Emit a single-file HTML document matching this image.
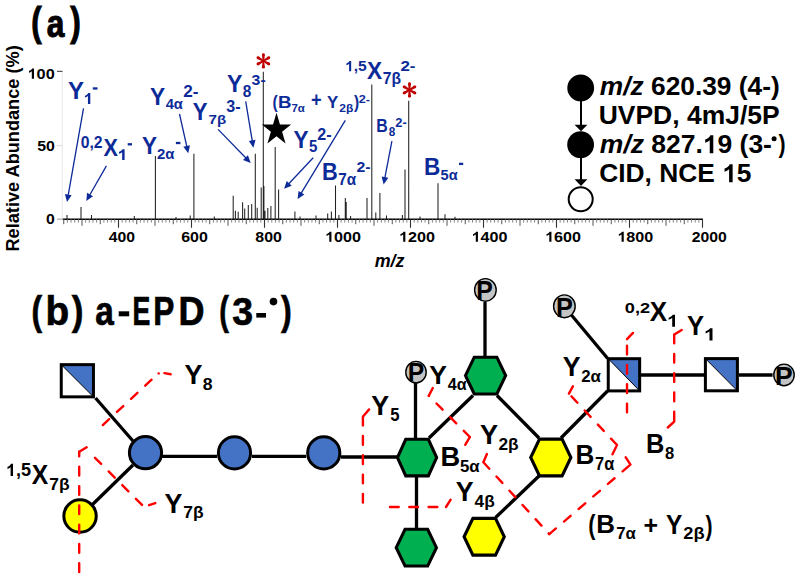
<!DOCTYPE html>
<html><head><meta charset="utf-8"><style>
html,body{margin:0;padding:0;background:#fff;}
svg{display:block;font-family:"Liberation Sans", sans-serif;}
</style></head><body>
<svg width="800" height="579" viewBox="0 0 800 579">
<rect width="800" height="579" fill="#fff"/>
<text x="31.35" y="36.20" font-size="40.99" font-weight="bold" font-style="normal" fill="#000" textLength="10.38" lengthAdjust="spacingAndGlyphs" stroke="#000" stroke-width="1.1">(</text>
<text x="46.87" y="36.60" font-size="38.66" font-weight="bold" font-style="normal" fill="#000" textLength="17.63" lengthAdjust="spacingAndGlyphs" stroke="#000" stroke-width="1.0">a</text>
<text x="70.17" y="36.20" font-size="40.99" font-weight="bold" font-style="normal" fill="#000" textLength="10.50" lengthAdjust="spacingAndGlyphs" stroke="#000" stroke-width="1.1">)</text>
<g transform="translate(19.2,250.3) rotate(-90)">
<text x="-1.21" y="0" font-size="18.3" font-weight="bold" textLength="206.21" lengthAdjust="spacingAndGlyphs">Relative Abundance (%)</text>
</g>
<path transform="translate(27.55,78.80) scale(0.00797,-0.00727)" d="M809,0H535V1024Q385,884 182,818V1066Q289,1101 414,1198Q539,1296 585,1409H809Z" fill="#000"/>
<text x="27.55" y="78.80" font-size="14.89" font-weight="bold" font-style="normal" fill="#000" textLength="27.22" lengthAdjust="spacingAndGlyphs"> 00</text>
<text x="37.31" y="151.00" font-size="15.32" font-weight="bold" font-style="normal" fill="#000" textLength="17.64" lengthAdjust="spacingAndGlyphs">50</text>
<text x="45.98" y="224.10" font-size="15.32" font-weight="bold" font-style="normal" fill="#000" textLength="8.77" lengthAdjust="spacingAndGlyphs">0</text>
<line x1="62.2" y1="71" x2="62.2" y2="219" stroke="#e6e6e6" stroke-width="1"/>
<line x1="57" y1="71.4" x2="62.5" y2="71.4" stroke="#555" stroke-width="1.2"/>
<line x1="56.5" y1="145.5" x2="62.5" y2="145.5" stroke="#ddd" stroke-width="1.2"/>
<line x1="57" y1="219.2" x2="62.5" y2="219.2" stroke="#aaa" stroke-width="1.2"/>
<line x1="62.7" y1="219.2" x2="703" y2="219.2" stroke="#000" stroke-width="1.6"/>
<path d="M67.40 219.2 V222.6 M71.05 219.2 V222.6 M74.70 219.2 V222.6 M78.35 219.2 V222.6 M85.65 219.2 V222.6 M89.30 219.2 V222.6 M92.95 219.2 V222.6 M96.60 219.2 V222.6 M103.90 219.2 V222.6 M107.55 219.2 V222.6 M111.20 219.2 V222.6 M114.85 219.2 V222.6 M122.15 219.2 V222.6 M125.80 219.2 V222.6 M129.45 219.2 V222.6 M133.10 219.2 V222.6 M140.40 219.2 V222.6 M144.05 219.2 V222.6 M147.70 219.2 V222.6 M151.35 219.2 V222.6 M158.65 219.2 V222.6 M162.30 219.2 V222.6 M165.95 219.2 V222.6 M169.60 219.2 V222.6 M176.90 219.2 V222.6 M180.55 219.2 V222.6 M184.20 219.2 V222.6 M187.85 219.2 V222.6 M195.15 219.2 V222.6 M198.80 219.2 V222.6 M202.45 219.2 V222.6 M206.10 219.2 V222.6 M213.40 219.2 V222.6 M217.05 219.2 V222.6 M220.70 219.2 V222.6 M224.35 219.2 V222.6 M231.65 219.2 V222.6 M235.30 219.2 V222.6 M238.95 219.2 V222.6 M242.60 219.2 V222.6 M249.90 219.2 V222.6 M253.55 219.2 V222.6 M257.20 219.2 V222.6 M260.85 219.2 V222.6 M268.15 219.2 V222.6 M271.80 219.2 V222.6 M275.45 219.2 V222.6 M279.10 219.2 V222.6 M286.40 219.2 V222.6 M290.05 219.2 V222.6 M293.70 219.2 V222.6 M297.35 219.2 V222.6 M304.65 219.2 V222.6 M308.30 219.2 V222.6 M311.95 219.2 V222.6 M315.60 219.2 V222.6 M322.90 219.2 V222.6 M326.55 219.2 V222.6 M330.20 219.2 V222.6 M333.85 219.2 V222.6 M341.15 219.2 V222.6 M344.80 219.2 V222.6 M348.45 219.2 V222.6 M352.10 219.2 V222.6 M359.40 219.2 V222.6 M363.05 219.2 V222.6 M366.70 219.2 V222.6 M370.35 219.2 V222.6 M377.65 219.2 V222.6 M381.30 219.2 V222.6 M384.95 219.2 V222.6 M388.60 219.2 V222.6 M395.90 219.2 V222.6 M399.55 219.2 V222.6 M403.20 219.2 V222.6 M406.85 219.2 V222.6 M414.15 219.2 V222.6 M417.80 219.2 V222.6 M421.45 219.2 V222.6 M425.10 219.2 V222.6 M432.40 219.2 V222.6 M436.05 219.2 V222.6 M439.70 219.2 V222.6 M443.35 219.2 V222.6 M450.65 219.2 V222.6 M454.30 219.2 V222.6 M457.95 219.2 V222.6 M461.60 219.2 V222.6 M468.90 219.2 V222.6 M472.55 219.2 V222.6 M476.20 219.2 V222.6 M479.85 219.2 V222.6 M487.15 219.2 V222.6 M490.80 219.2 V222.6 M494.45 219.2 V222.6 M498.10 219.2 V222.6 M505.40 219.2 V222.6 M509.05 219.2 V222.6 M512.70 219.2 V222.6 M516.35 219.2 V222.6 M523.65 219.2 V222.6 M527.30 219.2 V222.6 M530.95 219.2 V222.6 M534.60 219.2 V222.6 M541.90 219.2 V222.6 M545.55 219.2 V222.6 M549.20 219.2 V222.6 M552.85 219.2 V222.6 M560.15 219.2 V222.6 M563.80 219.2 V222.6 M567.45 219.2 V222.6 M571.10 219.2 V222.6 M578.40 219.2 V222.6 M582.05 219.2 V222.6 M585.70 219.2 V222.6 M589.35 219.2 V222.6 M596.65 219.2 V222.6 M600.30 219.2 V222.6 M603.95 219.2 V222.6 M607.60 219.2 V222.6 M614.90 219.2 V222.6 M618.55 219.2 V222.6 M622.20 219.2 V222.6 M625.85 219.2 V222.6 M633.15 219.2 V222.6 M636.80 219.2 V222.6 M640.45 219.2 V222.6 M644.10 219.2 V222.6 M651.40 219.2 V222.6 M655.05 219.2 V222.6 M658.70 219.2 V222.6 M662.35 219.2 V222.6 M669.65 219.2 V222.6 M673.30 219.2 V222.6 M676.95 219.2 V222.6 M680.60 219.2 V222.6 M687.90 219.2 V222.6 M691.55 219.2 V222.6 M695.20 219.2 V222.6 M698.85 219.2 V222.6" stroke="#777" stroke-width="0.9" fill="none"/>
<path d="M63.75 219.2 V224.2 M82.00 219.2 V225.8 M100.25 219.2 V224.2 M136.75 219.2 V224.2 M155.00 219.2 V225.8 M173.25 219.2 V224.2 M209.75 219.2 V224.2 M228.00 219.2 V225.8 M246.25 219.2 V224.2 M282.75 219.2 V224.2 M301.00 219.2 V225.8 M319.25 219.2 V224.2 M355.75 219.2 V224.2 M374.00 219.2 V225.8 M392.25 219.2 V224.2 M428.75 219.2 V224.2 M447.00 219.2 V225.8 M465.25 219.2 V224.2 M501.75 219.2 V224.2 M520.00 219.2 V225.8 M538.25 219.2 V224.2 M574.75 219.2 V224.2 M593.00 219.2 V225.8 M611.25 219.2 V224.2 M647.75 219.2 V224.2 M666.00 219.2 V225.8 M684.25 219.2 V224.2" stroke="#555" stroke-width="1" fill="none"/>
<path d="M118.50 219.2 V227.8 M191.50 219.2 V227.8 M264.50 219.2 V227.8 M337.50 219.2 V227.8 M410.50 219.2 V227.8 M483.50 219.2 V227.8 M556.50 219.2 V227.8 M629.50 219.2 V227.8 M702.50 219.2 V227.8" stroke="#333" stroke-width="1.1" fill="none"/>
<text x="108.66" y="241.80" font-size="14.60" font-weight="bold" font-style="normal" fill="#000" textLength="26.28" lengthAdjust="spacingAndGlyphs">400</text>
<text x="181.17" y="241.80" font-size="14.60" font-weight="bold" font-style="normal" fill="#000" textLength="26.64" lengthAdjust="spacingAndGlyphs">600</text>
<text x="255.39" y="241.80" font-size="14.60" font-weight="bold" font-style="normal" fill="#000" textLength="26.56" lengthAdjust="spacingAndGlyphs">800</text>
<path transform="translate(325.07,241.80) scale(0.00788,-0.00713)" d="M809,0H535V1024Q385,884 182,818V1066Q289,1101 414,1198Q539,1296 585,1409H809Z" fill="#000"/>
<text x="325.07" y="241.80" font-size="14.60" font-weight="bold" font-style="normal" fill="#000" textLength="35.90" lengthAdjust="spacingAndGlyphs"> 000</text>
<path transform="translate(398.97,241.80) scale(0.00788,-0.00713)" d="M809,0H535V1024Q385,884 182,818V1066Q289,1101 414,1198Q539,1296 585,1409H809Z" fill="#000"/>
<text x="398.97" y="241.80" font-size="14.60" font-weight="bold" font-style="normal" fill="#000" textLength="35.90" lengthAdjust="spacingAndGlyphs"> 200</text>
<path transform="translate(471.57,241.80) scale(0.00788,-0.00713)" d="M809,0H535V1024Q385,884 182,818V1066Q289,1101 414,1198Q539,1296 585,1409H809Z" fill="#000"/>
<text x="471.57" y="241.80" font-size="14.60" font-weight="bold" font-style="normal" fill="#000" textLength="35.90" lengthAdjust="spacingAndGlyphs"> 400</text>
<path transform="translate(545.07,241.80) scale(0.00788,-0.00713)" d="M809,0H535V1024Q385,884 182,818V1066Q289,1101 414,1198Q539,1296 585,1409H809Z" fill="#000"/>
<text x="545.07" y="241.80" font-size="14.60" font-weight="bold" font-style="normal" fill="#000" textLength="35.90" lengthAdjust="spacingAndGlyphs"> 600</text>
<path transform="translate(617.37,241.80) scale(0.00788,-0.00713)" d="M809,0H535V1024Q385,884 182,818V1066Q289,1101 414,1198Q539,1296 585,1409H809Z" fill="#000"/>
<text x="617.37" y="241.80" font-size="14.60" font-weight="bold" font-style="normal" fill="#000" textLength="35.90" lengthAdjust="spacingAndGlyphs"> 800</text>
<text x="691.75" y="241.80" font-size="14.60" font-weight="bold" font-style="normal" fill="#000" textLength="34.99" lengthAdjust="spacingAndGlyphs">2000</text>
<text x="374.69" y="267.25" font-size="17.60" font-weight="bold" font-style="italic" fill="#000" textLength="29.83" lengthAdjust="spacingAndGlyphs">m/z</text>
<path d="M67 219.2 V215 M81 219.2 V207 M91.5 219.2 V215 M155.4 219.2 V156 M193.9 219.2 V153.7 M233.2 219.2 V195.7 M235.4 219.2 V210.8 M238.2 219.2 V211.8 M242.6 219.2 V202.2 M244.7 219.2 V208.4 M248.3 219.2 V205 M251.7 219.2 V204 M255.3 219.2 V153.7 M257.2 219.2 V207.7 M261.2 219.2 V187.4 M263.9 219.2 V186 M263.3 219.2 V71.8 M265.0 219.2 V210.8 M267.8 219.2 V208 M270.9 219.2 V206 M275.2 219.2 V147 M278.6 219.2 V189.5 M294.9 219.2 V211.6 M327.7 219.2 V213.6 M331.4 219.2 V211.6 M335.5 219.2 V185.6 M345.3 219.2 V198.1 M346.2 219.2 V202 M367 219.2 V198 M371.8 219.2 V84.4 M375.8 219.2 V212.6 M379.9 219.2 V192.9 M402.4 219.2 V214.9 M405 219.2 V169.5 M408.7 219.2 V100.7 M438 219.2 V183.2 M445 219.2 V214.3 M386.5 219.2 V215.5 M338.9 219.2 V215 M350.6 219.2 V216 M316 219.2 V215.5 M300 219.2 V216.5 M420 219.2 V216.5 M455 219.2 V216.8 M134.3 219.2 V216 M176 219.2 V217 M190.2 219.2 V215.5 M214.3 219.2 V216.5" stroke="#222" stroke-width="1.05" fill="none"/>
<polygon points="264.20,60.90 264.85,54.65 261.95,54.65 262.60,60.90" fill="#c00000"/><circle cx="263.40" cy="54.65" r="1.45" fill="#c00000"/><polygon points="263.80,61.59 269.54,59.03 268.09,56.52 263.00,60.21" fill="#c00000"/><circle cx="268.81" cy="57.77" r="1.45" fill="#c00000"/><polygon points="263.00,61.59 268.09,65.28 269.54,62.77 263.80,60.21" fill="#c00000"/><circle cx="268.81" cy="64.02" r="1.45" fill="#c00000"/><polygon points="262.60,60.90 261.95,67.15 264.85,67.15 264.20,60.90" fill="#c00000"/><circle cx="263.40" cy="67.15" r="1.45" fill="#c00000"/><polygon points="263.00,60.21 257.26,62.77 258.71,65.28 263.80,61.59" fill="#c00000"/><circle cx="257.99" cy="64.02" r="1.45" fill="#c00000"/><polygon points="263.80,60.21 258.71,56.52 257.26,59.03 263.00,61.59" fill="#c00000"/><circle cx="257.99" cy="57.77" r="1.45" fill="#c00000"/>
<polygon points="410.30,89.95 410.95,83.70 408.05,83.70 408.70,89.95" fill="#c00000"/><circle cx="409.50" cy="83.70" r="1.45" fill="#c00000"/><polygon points="409.90,90.64 415.64,88.08 414.19,85.57 409.10,89.26" fill="#c00000"/><circle cx="414.91" cy="86.83" r="1.45" fill="#c00000"/><polygon points="409.10,90.64 414.19,94.33 415.64,91.82 409.90,89.26" fill="#c00000"/><circle cx="414.91" cy="93.08" r="1.45" fill="#c00000"/><polygon points="408.70,89.95 408.05,96.20 410.95,96.20 410.30,89.95" fill="#c00000"/><circle cx="409.50" cy="96.20" r="1.45" fill="#c00000"/><polygon points="409.10,89.26 403.36,91.82 404.81,94.33 409.90,90.64" fill="#c00000"/><circle cx="404.09" cy="93.08" r="1.45" fill="#c00000"/><polygon points="409.90,89.26 404.81,85.57 403.36,88.08 409.10,90.64" fill="#c00000"/><circle cx="404.09" cy="86.83" r="1.45" fill="#c00000"/>
<polygon points="276.50,112.80 273.04,124.55 261.85,124.55 270.91,131.81 267.45,143.55 276.50,136.29 285.55,143.55 282.09,131.81 291.15,124.55 279.96,124.55" fill="#000"/>
<circle cx="580.7" cy="87.9" r="13.4" fill="#000"/>
<circle cx="580.6" cy="144.7" r="13.4" fill="#000"/>
<circle cx="580.7" cy="199.3" r="12" fill="#fff" stroke="#000" stroke-width="2"/>
<line x1="581" y1="100" x2="581" y2="126" stroke="#000" stroke-width="2"/>
<polygon points="574.6,124.7 587.4,124.7 581,131.3" fill="#000"/>
<line x1="581" y1="157" x2="581" y2="180" stroke="#000" stroke-width="2"/>
<polygon points="574.6,179.2 587.4,179.2 581,186.1" fill="#000"/>
<g transform="translate(599.85,95.3) scale(1.0003,1)">
<text x="0.00" y="0" font-size="26.3" font-weight="bold" font-style="italic" xml:space="preserve">m/z</text>
<text x="43.84" y="0" font-size="26.3" font-weight="bold" font-style="normal" xml:space="preserve"> 620.39 (4-)</text>
</g>
<g transform="translate(598.71,124.3) scale(1.0067,1)">
<text x="0.00" y="0" font-size="26.3" font-weight="bold" font-style="normal" xml:space="preserve">UVPD, 4mJ/5P</text>
</g>
<g transform="translate(599.85,153.3) scale(1.0063,1)">
<text x="0.00" y="0" font-size="26.3" font-weight="bold" font-style="italic" xml:space="preserve">m/z</text>
<path transform="translate(102.34,0.00) scale(0.01284,-0.01284)" d="M809,0H535V1024Q385,884 182,818V1066Q289,1101 414,1198Q539,1296 585,1409H809Z" fill="#000"/>
<text x="43.84" y="0" font-size="26.3" font-weight="bold" font-style="normal" xml:space="preserve"> 827. 9 (3-</text>
</g>
<circle cx="774.1" cy="138.8" r="2.5" fill="#000"/>
<text x="778.38" y="153.30" font-size="25.80" font-weight="bold" font-style="normal" fill="#000" textLength="7.08" lengthAdjust="spacingAndGlyphs">)</text>
<g transform="translate(599.22,182.3) scale(1.0021,1)">
<path transform="translate(122.74,0.00) scale(0.01284,-0.01284)" d="M809,0H535V1024Q385,884 182,818V1066Q289,1101 414,1198Q539,1296 585,1409H809Z" fill="#000"/>
<text x="0.00" y="0" font-size="26.3" font-weight="bold" font-style="normal" xml:space="preserve">CID, NCE  5</text>
</g>
<text x="67.99" y="99.40" font-size="24.71" font-weight="bold" font-style="normal" fill="#0d2b98" textLength="16.00" lengthAdjust="spacingAndGlyphs">Y</text>
<path transform="translate(83.33,103.90) scale(0.00861,-0.00774)" d="M809,0H535V1024Q385,884 182,818V1066Q289,1101 414,1198Q539,1296 585,1409H809Z" fill="#0d2b98"/>
<text x="83.33" y="103.90" font-size="15.84" font-weight="bold" font-style="normal" fill="#0d2b98" textLength="9.81" lengthAdjust="spacingAndGlyphs"> </text>
<rect x="92.8" y="87.30" width="4.70" height="2.3" fill="#0d2b98"/>
<text x="80.68" y="148.40" font-size="16.33" font-weight="bold" font-style="normal" fill="#0d2b98" textLength="21.85" lengthAdjust="spacingAndGlyphs">0,2</text>
<text x="103.51" y="155.80" font-size="24.42" font-weight="bold" font-style="normal" fill="#0d2b98" textLength="14.38" lengthAdjust="spacingAndGlyphs">X</text>
<path transform="translate(117.37,160.00) scale(0.00893,-0.00767)" d="M809,0H535V1024Q385,884 182,818V1066Q289,1101 414,1198Q539,1296 585,1409H809Z" fill="#0d2b98"/>
<text x="117.37" y="160.00" font-size="15.70" font-weight="bold" font-style="normal" fill="#0d2b98" textLength="10.17" lengthAdjust="spacingAndGlyphs"> </text>
<rect x="127.7" y="143.15" width="4.30" height="2.3" fill="#0d2b98"/>
<text x="141.91" y="153.80" font-size="23.55" font-weight="bold" font-style="normal" fill="#0d2b98" textLength="15.05" lengthAdjust="spacingAndGlyphs">Y</text>
<text x="157.08" y="158.50" font-size="15.04" font-weight="bold" font-style="normal" fill="#0d2b98" textLength="17.47" lengthAdjust="spacingAndGlyphs">2α</text>
<rect x="175.9" y="141.85" width="4.50" height="2.3" fill="#0d2b98"/>
<text x="150.11" y="104.70" font-size="23.26" font-weight="bold" font-style="normal" fill="#0d2b98" textLength="15.15" lengthAdjust="spacingAndGlyphs">Y</text>
<text x="165.68" y="108.90" font-size="15.26" font-weight="bold" font-style="normal" fill="#0d2b98" textLength="17.17" lengthAdjust="spacingAndGlyphs">4α</text>
<text x="183.20" y="97.40" font-size="16.33" font-weight="bold" font-style="normal" fill="#0d2b98" textLength="15.28" lengthAdjust="spacingAndGlyphs">2-</text>
<text x="192.72" y="119.90" font-size="23.26" font-weight="bold" font-style="normal" fill="#0d2b98" textLength="14.73" lengthAdjust="spacingAndGlyphs">Y</text>
<text x="208.55" y="124.30" font-size="13.66" font-weight="bold" font-style="normal" fill="#0d2b98" textLength="17.66" lengthAdjust="spacingAndGlyphs">7β</text>
<text x="226.33" y="112.30" font-size="15.75" font-weight="bold" font-style="normal" fill="#0d2b98" textLength="14.31" lengthAdjust="spacingAndGlyphs">3-</text>
<text x="226.90" y="92.10" font-size="23.55" font-weight="bold" font-style="normal" fill="#0d2b98" textLength="15.47" lengthAdjust="spacingAndGlyphs">Y</text>
<text x="242.71" y="97.30" font-size="16.18" font-weight="bold" font-style="normal" fill="#0d2b98" textLength="8.56" lengthAdjust="spacingAndGlyphs">8</text>
<text x="251.64" y="84.60" font-size="14.89" font-weight="bold" font-style="normal" fill="#0d2b98" textLength="14.10" lengthAdjust="spacingAndGlyphs">3-</text>
<text x="272.62" y="107.80" font-size="18.08" font-weight="bold" font-style="normal" fill="#0d2b98" textLength="5.19" lengthAdjust="spacingAndGlyphs">(</text>
<text x="277.95" y="108.00" font-size="17.01" font-weight="bold" font-style="normal" fill="#0d2b98" textLength="13.50" lengthAdjust="spacingAndGlyphs">B</text>
<text x="291.41" y="112.00" font-size="11.63" font-weight="bold" font-style="normal" fill="#0d2b98" textLength="13.41" lengthAdjust="spacingAndGlyphs">7α</text>
<text x="310.94" y="107.20" font-size="19.44" font-weight="bold" font-style="normal" fill="#0d2b98" textLength="10.60" lengthAdjust="spacingAndGlyphs">+</text>
<text x="327.11" y="108.00" font-size="17.01" font-weight="bold" font-style="normal" fill="#0d2b98" textLength="11.26" lengthAdjust="spacingAndGlyphs">Y</text>
<text x="339.38" y="111.90" font-size="10.90" font-weight="bold" font-style="normal" fill="#0d2b98" textLength="14.02" lengthAdjust="spacingAndGlyphs">2β</text>
<text x="353.88" y="107.80" font-size="18.08" font-weight="bold" font-style="normal" fill="#0d2b98" textLength="5.19" lengthAdjust="spacingAndGlyphs">)</text>
<text x="358.76" y="102.60" font-size="10.60" font-weight="bold" font-style="normal" fill="#0d2b98" textLength="11.24" lengthAdjust="spacingAndGlyphs">2-</text>
<text x="293.51" y="147.90" font-size="24.27" font-weight="bold" font-style="normal" fill="#0d2b98" textLength="15.05" lengthAdjust="spacingAndGlyphs">Y</text>
<text x="308.94" y="152.00" font-size="15.99" font-weight="bold" font-style="normal" fill="#0d2b98" textLength="8.38" lengthAdjust="spacingAndGlyphs">5</text>
<text x="317.24" y="140.30" font-size="16.18" font-weight="bold" font-style="normal" fill="#0d2b98" textLength="14.30" lengthAdjust="spacingAndGlyphs">2-</text>
<path transform="translate(345.01,71.20) scale(0.00763,-0.00731)" d="M809,0H535V1024Q385,884 182,818V1066Q289,1101 414,1198Q539,1296 585,1409H809Z" fill="#0d2b98"/>
<text x="345.01" y="71.20" font-size="14.97" font-weight="bold" font-style="normal" fill="#0d2b98" textLength="21.72" lengthAdjust="spacingAndGlyphs"> ,5</text>
<text x="367.10" y="78.80" font-size="24.56" font-weight="bold" font-style="normal" fill="#0d2b98" textLength="15.10" lengthAdjust="spacingAndGlyphs">X</text>
<text x="382.73" y="83.50" font-size="15.87" font-weight="bold" font-style="normal" fill="#0d2b98" textLength="18.30" lengthAdjust="spacingAndGlyphs">7β</text>
<text x="400.41" y="71.20" font-size="14.18" font-weight="bold" font-style="normal" fill="#0d2b98" textLength="15.07" lengthAdjust="spacingAndGlyphs">2-</text>
<text x="322.04" y="179.60" font-size="23.40" font-weight="bold" font-style="normal" fill="#0d2b98" textLength="15.75" lengthAdjust="spacingAndGlyphs">B</text>
<text x="338.24" y="184.60" font-size="15.84" font-weight="bold" font-style="normal" fill="#0d2b98" textLength="17.91" lengthAdjust="spacingAndGlyphs">7α</text>
<text x="356.55" y="172.30" font-size="14.89" font-weight="bold" font-style="normal" fill="#0d2b98" textLength="14.08" lengthAdjust="spacingAndGlyphs">2-</text>
<text x="376.24" y="131.80" font-size="18.31" font-weight="bold" font-style="normal" fill="#0d2b98" textLength="11.49" lengthAdjust="spacingAndGlyphs">B</text>
<text x="388.83" y="135.60" font-size="12.60" font-weight="bold" font-style="normal" fill="#0d2b98" textLength="6.53" lengthAdjust="spacingAndGlyphs">8</text>
<text x="395.35" y="126.70" font-size="13.46" font-weight="bold" font-style="normal" fill="#0d2b98" textLength="11.46" lengthAdjust="spacingAndGlyphs">2-</text>
<text x="423.89" y="174.50" font-size="23.55" font-weight="bold" font-style="normal" fill="#0d2b98" textLength="16.34" lengthAdjust="spacingAndGlyphs">B</text>
<text x="440.55" y="179.50" font-size="15.55" font-weight="bold" font-style="normal" fill="#0d2b98" textLength="17.10" lengthAdjust="spacingAndGlyphs">5α</text>
<rect x="459.0" y="162.75" width="4.20" height="2.3" fill="#0d2b98"/>
<line x1="83.5" y1="108.3" x2="67.95" y2="196.58" stroke="#0d2b98" stroke-width="1.3"/>
<polygon points="67.00,202.00 64.95,194.02 71.65,195.20" fill="#0d2b98"/>
<line x1="106.4" y1="165.9" x2="89.03" y2="196.23" stroke="#0d2b98" stroke-width="1.3"/>
<polygon points="86.30,201.00 87.08,192.80 92.98,196.18" fill="#0d2b98"/>
<line x1="179.5" y1="114" x2="187.10" y2="147.83" stroke="#0d2b98" stroke-width="1.3"/>
<polygon points="188.30,153.20 183.34,146.63 189.97,145.14" fill="#0d2b98"/>
<line x1="218.1" y1="129.4" x2="246.87" y2="159.05" stroke="#0d2b98" stroke-width="1.3"/>
<polygon points="250.70,163.00 243.04,159.98 247.92,155.25" fill="#0d2b98"/>
<line x1="245.7" y1="101.3" x2="252.50" y2="142.37" stroke="#0d2b98" stroke-width="1.3"/>
<polygon points="253.40,147.80 248.82,140.96 255.53,139.85" fill="#0d2b98"/>
<line x1="313.2" y1="157.7" x2="287.86" y2="184.78" stroke="#0d2b98" stroke-width="1.3"/>
<polygon points="284.10,188.80 286.74,181.00 291.71,185.65" fill="#0d2b98"/>
<line x1="345.3" y1="120.4" x2="300.45" y2="194.40" stroke="#0d2b98" stroke-width="1.3"/>
<polygon points="297.60,199.10 298.58,190.92 304.40,194.45" fill="#0d2b98"/>
<line x1="391.9" y1="141.1" x2="384.63" y2="179.20" stroke="#0d2b98" stroke-width="1.3"/>
<polygon points="383.60,184.60 381.67,176.60 388.35,177.87" fill="#0d2b98"/>
<text x="31.61" y="325.40" font-size="40.80" font-weight="bold" font-style="normal" fill="#000" textLength="10.62" lengthAdjust="spacingAndGlyphs" stroke="#000" stroke-width="0.7">(</text>
<text x="45.55" y="325.40" font-size="40.85" font-weight="bold" font-style="normal" fill="#000" textLength="23.64" lengthAdjust="spacingAndGlyphs" stroke="#000" stroke-width="0.7">b</text>
<text x="71.67" y="325.40" font-size="40.80" font-weight="bold" font-style="normal" fill="#000" textLength="11.68" lengthAdjust="spacingAndGlyphs" stroke="#000" stroke-width="0.7">)</text>
<text x="95.22" y="325.40" font-size="40.33" font-weight="bold" font-style="normal" fill="#000" textLength="18.57" lengthAdjust="spacingAndGlyphs" stroke="#000" stroke-width="0.7">a</text>
<rect x="118.7" y="311.3" width="10.5" height="5.0" fill="#000"/>
<text x="132.51" y="325.40" font-size="40.26" font-weight="bold" font-style="normal" fill="#000" textLength="17.83" lengthAdjust="spacingAndGlyphs" stroke="#000" stroke-width="0.7">E</text>
<text x="153.28" y="325.40" font-size="40.26" font-weight="bold" font-style="normal" fill="#000" textLength="21.10" lengthAdjust="spacingAndGlyphs" stroke="#000" stroke-width="0.7">P</text>
<text x="178.39" y="325.40" font-size="40.26" font-weight="bold" font-style="normal" fill="#000" textLength="26.02" lengthAdjust="spacingAndGlyphs" stroke="#000" stroke-width="0.7">D</text>
<text x="219.25" y="325.40" font-size="40.80" font-weight="bold" font-style="normal" fill="#000" textLength="9.68" lengthAdjust="spacingAndGlyphs" stroke="#000" stroke-width="0.7">(</text>
<text x="232.14" y="325.40" font-size="38.67" font-weight="bold" font-style="normal" fill="#000" textLength="20.81" lengthAdjust="spacingAndGlyphs" stroke="#000" stroke-width="0.7">3</text>
<rect x="256.3" y="313.0" width="9.7" height="4.6" fill="#000"/>
<circle cx="273.5" cy="301.6" r="3.8" fill="#000"/>
<text x="281.07" y="325.40" font-size="40.80" font-weight="bold" font-style="normal" fill="#000" textLength="10.74" lengthAdjust="spacingAndGlyphs" stroke="#000" stroke-width="0.7">)</text>
<text x="184.54" y="383.80" font-size="26.89" font-weight="bold" font-style="normal" fill="#000">Y</text>
<text x="202.84" y="390.20" font-size="17.04" font-weight="bold" font-style="normal" fill="#000" textLength="9.80" lengthAdjust="spacingAndGlyphs">8</text>
<path transform="translate(5.89,476.00) scale(0.00882,-0.00866)" d="M809,0H535V1024Q385,884 182,818V1066Q289,1101 414,1198Q539,1296 585,1409H809Z" fill="#000"/>
<text x="5.89" y="476.00" font-size="17.73" font-weight="bold" font-style="normal" fill="#000" textLength="25.11" lengthAdjust="spacingAndGlyphs"> ,5</text>
<text x="31.78" y="483.50" font-size="26.89" font-weight="bold" font-style="normal" fill="#000" textLength="16.43" lengthAdjust="spacingAndGlyphs">X</text>
<text x="49.25" y="489.50" font-size="16.15" font-weight="bold" font-style="normal" fill="#000" textLength="20.34" lengthAdjust="spacingAndGlyphs">7β</text>
<text x="164.54" y="512.50" font-size="27.62" font-weight="bold" font-style="normal" fill="#000" textLength="17.89" lengthAdjust="spacingAndGlyphs">Y</text>
<text x="183.25" y="518.00" font-size="16.84" font-weight="bold" font-style="normal" fill="#000" textLength="20.34" lengthAdjust="spacingAndGlyphs">7β</text>
<text x="371.24" y="414.50" font-size="27.47" font-weight="bold" font-style="normal" fill="#000" textLength="17.89" lengthAdjust="spacingAndGlyphs">Y</text>
<text x="390.19" y="420.70" font-size="17.44" font-weight="bold" font-style="normal" fill="#000" textLength="9.28" lengthAdjust="spacingAndGlyphs">5</text>
<text x="429.35" y="383.75" font-size="26.67" font-weight="bold" font-style="normal" fill="#000" textLength="17.68" lengthAdjust="spacingAndGlyphs">Y</text>
<text x="447.86" y="389.70" font-size="17.15" font-weight="bold" font-style="normal" fill="#000" textLength="18.91" lengthAdjust="spacingAndGlyphs">4α</text>
<text x="440.38" y="466.20" font-size="27.91" font-weight="bold" font-style="normal" fill="#000" textLength="19.66" lengthAdjust="spacingAndGlyphs">B</text>
<text x="459.98" y="471.80" font-size="17.30" font-weight="bold" font-style="normal" fill="#000" textLength="19.69" lengthAdjust="spacingAndGlyphs">5α</text>
<text x="455.74" y="501.10" font-size="26.74" font-weight="bold" font-style="normal" fill="#000">Y</text>
<text x="474.64" y="507.10" font-size="16.28" font-weight="bold" font-style="normal" fill="#000" textLength="20.14" lengthAdjust="spacingAndGlyphs">4β</text>
<text x="480.04" y="444.40" font-size="26.74" font-weight="bold" font-style="normal" fill="#000" textLength="18.10" lengthAdjust="spacingAndGlyphs">Y</text>
<text x="498.50" y="450.40" font-size="16.28" font-weight="bold" font-style="normal" fill="#000" textLength="20.18" lengthAdjust="spacingAndGlyphs">2β</text>
<text x="575.46" y="464.40" font-size="26.74" font-weight="bold" font-style="normal" fill="#000" textLength="18.83" lengthAdjust="spacingAndGlyphs">B</text>
<text x="595.10" y="470.40" font-size="17.59" font-weight="bold" font-style="normal" fill="#000" textLength="19.17" lengthAdjust="spacingAndGlyphs">7α</text>
<text x="562.74" y="375.80" font-size="27.33" font-weight="bold" font-style="normal" fill="#000" textLength="17.79" lengthAdjust="spacingAndGlyphs">Y</text>
<text x="581.22" y="382.10" font-size="16.76" font-weight="bold" font-style="normal" fill="#000" textLength="19.76" lengthAdjust="spacingAndGlyphs">2α</text>
<text x="624.88" y="313.10" font-size="15.47" font-weight="bold" font-style="normal" fill="#000" textLength="25.25" lengthAdjust="spacingAndGlyphs">0,2</text>
<text x="649.77" y="321.20" font-size="27.91" font-weight="bold" font-style="normal" fill="#000" textLength="17.36" lengthAdjust="spacingAndGlyphs">X</text>
<path transform="translate(666.74,326.80) scale(0.01021,-0.00852)" d="M809,0H535V1024Q385,884 182,818V1066Q289,1101 414,1198Q539,1296 585,1409H809Z" fill="#000"/>
<text x="666.74" y="326.80" font-size="17.44" font-weight="bold" font-style="normal" fill="#000" textLength="11.63" lengthAdjust="spacingAndGlyphs"> </text>
<text x="687.06" y="335.00" font-size="27.18" font-weight="bold" font-style="normal" fill="#000" textLength="17.05" lengthAdjust="spacingAndGlyphs">Y</text>
<path transform="translate(703.60,340.60) scale(0.01100,-0.00880)" d="M809,0H535V1024Q385,884 182,818V1066Q289,1101 414,1198Q539,1296 585,1409H809Z" fill="#000"/>
<text x="703.60" y="340.60" font-size="18.02" font-weight="bold" font-style="normal" fill="#000" textLength="12.53" lengthAdjust="spacingAndGlyphs"> </text>
<text x="645.90" y="453.00" font-size="27.04" font-weight="bold" font-style="normal" fill="#000" textLength="18.35" lengthAdjust="spacingAndGlyphs">B</text>
<text x="665.07" y="459.00" font-size="16.90" font-weight="bold" font-style="normal" fill="#000" textLength="9.24" lengthAdjust="spacingAndGlyphs">8</text>
<text x="588.32" y="534.00" font-size="26.77" font-weight="bold" font-style="normal" fill="#000" textLength="7.20" lengthAdjust="spacingAndGlyphs">(</text>
<text x="596.37" y="533.40" font-size="26.16" font-weight="bold" font-style="normal" fill="#000" textLength="18.71" lengthAdjust="spacingAndGlyphs">B</text>
<text x="616.18" y="539.10" font-size="16.72" font-weight="bold" font-style="normal" fill="#000" textLength="19.70" lengthAdjust="spacingAndGlyphs">7α</text>
<text x="643.45" y="533.60" font-size="26.60" font-weight="bold" font-style="normal" fill="#000" textLength="14.56" lengthAdjust="spacingAndGlyphs">+</text>
<text x="666.08" y="533.50" font-size="26.89" font-weight="bold" font-style="normal" fill="#000" textLength="16.31" lengthAdjust="spacingAndGlyphs">Y</text>
<text x="683.37" y="539.00" font-size="16.01" font-weight="bold" font-style="normal" fill="#000" textLength="21.24" lengthAdjust="spacingAndGlyphs">2β</text>
<text x="705.48" y="534.50" font-size="26.91" font-weight="bold" font-style="normal" fill="#000" textLength="7.08" lengthAdjust="spacingAndGlyphs">)</text>
<line x1="95.5" y1="398" x2="133" y2="441" stroke="#000" stroke-width="3.3"/>
<line x1="133" y1="465" x2="92" y2="505" stroke="#000" stroke-width="3.3"/>
<line x1="162" y1="456.4" x2="217" y2="456.4" stroke="#000" stroke-width="3.3"/>
<line x1="252" y1="456.4" x2="306" y2="456.4" stroke="#000" stroke-width="3.3"/>
<line x1="341" y1="457" x2="398" y2="457" stroke="#000" stroke-width="3.3"/>
<line x1="415.5" y1="382" x2="415.5" y2="439" stroke="#000" stroke-width="3.3"/>
<line x1="416.5" y1="476" x2="416.5" y2="528" stroke="#000" stroke-width="3.3"/>
<line x1="429" y1="438" x2="473" y2="395.5" stroke="#000" stroke-width="3.3"/>
<line x1="485" y1="302" x2="485" y2="356" stroke="#000" stroke-width="3.3"/>
<line x1="497" y1="395.5" x2="539" y2="438" stroke="#000" stroke-width="3.3"/>
<line x1="561" y1="438" x2="607.5" y2="391" stroke="#000" stroke-width="3.3"/>
<line x1="571.4" y1="315" x2="607.7" y2="358.5" stroke="#000" stroke-width="3.3"/>
<line x1="641" y1="375" x2="704" y2="375" stroke="#000" stroke-width="3.3"/>
<line x1="739" y1="375" x2="772.6" y2="375" stroke="#000" stroke-width="3.3"/>
<line x1="539" y1="476" x2="495.6" y2="517.5" stroke="#000" stroke-width="3.3"/>
<circle cx="145.5" cy="452.7" r="16.1" fill="#4472c4" stroke="#000" stroke-width="3"/>
<circle cx="234.5" cy="452.9" r="16.1" fill="#4472c4" stroke="#000" stroke-width="3"/>
<circle cx="323.75" cy="452.9" r="16.1" fill="#4472c4" stroke="#000" stroke-width="3"/>
<circle cx="80.05" cy="516.05" r="16.2" fill="#ffff00" stroke="#000" stroke-width="3"/>
<rect x="61.25" y="364.65" width="32.2" height="32.2" fill="#fff"/>
<polygon points="61.25,364.65 93.45,364.65 93.45,396.85" fill="#4472c4"/>
<line x1="61.25" y1="364.65" x2="93.45" y2="396.85" stroke="#000" stroke-width="1"/>
<rect x="61.25" y="364.65" width="32.2" height="32.2" fill="none" stroke="#000" stroke-width="3.0"/>
<rect x="608.25" y="358.70" width="31.4" height="32.2" fill="#fff"/>
<polygon points="608.25,358.70 639.65,358.70 639.65,390.90" fill="#4472c4"/>
<line x1="608.25" y1="358.70" x2="639.65" y2="390.90" stroke="#000" stroke-width="1"/>
<rect x="608.25" y="358.70" width="31.4" height="32.2" fill="none" stroke="#000" stroke-width="3.0"/>
<rect x="705.40" y="358.60" width="32.0" height="32.2" fill="#fff"/>
<polygon points="705.40,358.60 737.40,358.60 737.40,390.80" fill="#4472c4"/>
<line x1="705.40" y1="358.60" x2="737.40" y2="390.80" stroke="#000" stroke-width="1"/>
<rect x="705.40" y="358.60" width="32.0" height="32.2" fill="none" stroke="#000" stroke-width="3.0"/>
<polygon points="397.45,457.55 405.75,439.25 428.35,439.25 436.65,457.55 428.35,475.85 405.75,475.85" fill="#00b050" stroke="#000" stroke-width="3.1" stroke-linejoin="miter"/>
<polygon points="465.45,375.60 474.25,357.20 496.85,357.20 505.65,375.60 496.85,394.00 474.25,394.00" fill="#00b050" stroke="#000" stroke-width="3.1" stroke-linejoin="miter"/>
<polygon points="396.25,547.65 405.05,529.25 427.65,529.25 436.45,547.65 427.65,566.05 405.05,566.05" fill="#00b050" stroke="#000" stroke-width="3.1" stroke-linejoin="miter"/>
<polygon points="530.70,457.50 539.50,439.10 562.10,439.10 570.90,457.50 562.10,475.90 539.50,475.90" fill="#ffff00" stroke="#000" stroke-width="3.1" stroke-linejoin="miter"/>
<polygon points="464.10,536.75 472.90,518.35 495.50,518.35 504.30,536.75 495.50,555.15 472.90,555.15" fill="#ffff00" stroke="#000" stroke-width="3.1" stroke-linejoin="miter"/>
<ellipse cx="485.4" cy="289.9" rx="10.8" ry="11.3" fill="#c4c4c4" stroke="#000" stroke-width="1.4"/>
<text x="476.15" y="300.20" font-size="27.33" font-weight="bold" font-style="normal" fill="#000" textLength="16.50" lengthAdjust="spacingAndGlyphs">P</text>
<ellipse cx="416.0" cy="372.2" rx="10.2" ry="10.8" fill="#c4c4c4" stroke="#000" stroke-width="1.4"/>
<text x="407.65" y="381.10" font-size="26.16" font-weight="bold" font-style="normal" fill="#000" textLength="16.50" lengthAdjust="spacingAndGlyphs">P</text>
<ellipse cx="564.4" cy="306.3" rx="10.8" ry="11.4" fill="#c4c4c4" stroke="#000" stroke-width="1.4"/>
<text x="556.01" y="316.50" font-size="27.62" font-weight="bold" font-style="normal" fill="#000" textLength="16.85" lengthAdjust="spacingAndGlyphs">P</text>
<ellipse cx="784.0" cy="374.9" rx="10.2" ry="10.8" fill="#c4c4c4" stroke="#000" stroke-width="1.4"/>
<text x="774.93" y="384.50" font-size="26.16" font-weight="bold" font-style="normal" fill="#000" textLength="17.68" lengthAdjust="spacingAndGlyphs">P</text>
<g stroke="#ff0000" stroke-width="2.4" stroke-linecap="round" stroke-dasharray="8.7,10.6" fill="none"><line x1="102.8" y1="425.1" x2="158.5" y2="373.3"/></g>
<line x1="158.6" y1="373.4" x2="158.7" y2="373.4" stroke="#ff0000" stroke-width="2.4" stroke-linecap="round"/>
<line x1="164.4" y1="373.1" x2="170.7" y2="374.2" stroke="#ff0000" stroke-width="2.4" stroke-linecap="round"/>
<g stroke="#ff0000" stroke-width="2.4" stroke-linecap="round" stroke-dasharray="8.7,10.6" fill="none"><line x1="79.2" y1="572.0" x2="79.2" y2="451.8"/><line x1="79.2" y1="451.8" x2="87.8" y2="446.6"/></g>
<g stroke="#ff0000" stroke-width="2.4" stroke-linecap="round" stroke-dasharray="8.7,10.6" fill="none"><line x1="95.0" y1="457.8" x2="143.1" y2="506"/></g>
<line x1="149.1" y1="505.2" x2="155.3" y2="503.1" stroke="#ff0000" stroke-width="2.4" stroke-linecap="round"/>
<g stroke="#ff0000" stroke-width="2.4" stroke-linecap="round" stroke-dasharray="8.7,10.6" fill="none"><line x1="369.1" y1="409.4" x2="362.9" y2="416.7"/><line x1="362.9" y1="416.7" x2="362.9" y2="503.3"/></g>
<g stroke="#ff0000" stroke-width="2.4" stroke-linecap="round" stroke-dasharray="8.7,10.6" fill="none"><line x1="390.0" y1="507" x2="446" y2="507"/><line x1="446" y1="507" x2="451.8" y2="497.8"/></g>
<g stroke="#ff0000" stroke-width="2.4" stroke-linecap="round" stroke-dasharray="8.7,10.6" fill="none"><line x1="465.2" y1="444.8" x2="469.9" y2="437.0"/><line x1="469.9" y1="437.0" x2="428.8" y2="395.8"/><line x1="428.8" y1="395.8" x2="433.6" y2="386.5"/></g>
<g stroke="#ff0000" stroke-width="2.4" stroke-linecap="round" stroke-dasharray="8.7,10.6" fill="none"><line x1="612.5" y1="454.3" x2="617.0" y2="445.0"/><line x1="617.0" y1="445.0" x2="568.9" y2="393.6"/><line x1="568.9" y1="393.6" x2="572.9" y2="386.3"/></g>
<g stroke="#ff0000" stroke-width="2.4" stroke-linecap="round" stroke-dasharray="8.7,10.6" fill="none"><line x1="486.9" y1="454.0" x2="483.4" y2="462.3"/><line x1="483.4" y1="462.3" x2="549.3" y2="534.1"/><line x1="549.3" y1="534.1" x2="630.5" y2="464.6"/><line x1="630.5" y1="464.6" x2="623.5" y2="454.0"/></g>
<g stroke="#ff0000" stroke-width="2.4" stroke-linecap="round" stroke-dasharray="8.7,10.6" fill="none"><line x1="627.0" y1="412.3" x2="627.0" y2="339.2"/><line x1="627.0" y1="339.2" x2="633.3" y2="332.6"/></g>
<g stroke="#ff0000" stroke-width="2.4" stroke-linecap="round" stroke-dasharray="8.7,10.6" fill="none"><line x1="681.7" y1="330.0" x2="674.2" y2="334.6"/><line x1="674.2" y1="334.6" x2="674.2" y2="421.6"/><line x1="674.2" y1="421.6" x2="666.5" y2="428.7"/></g>
</svg>
</body></html>
